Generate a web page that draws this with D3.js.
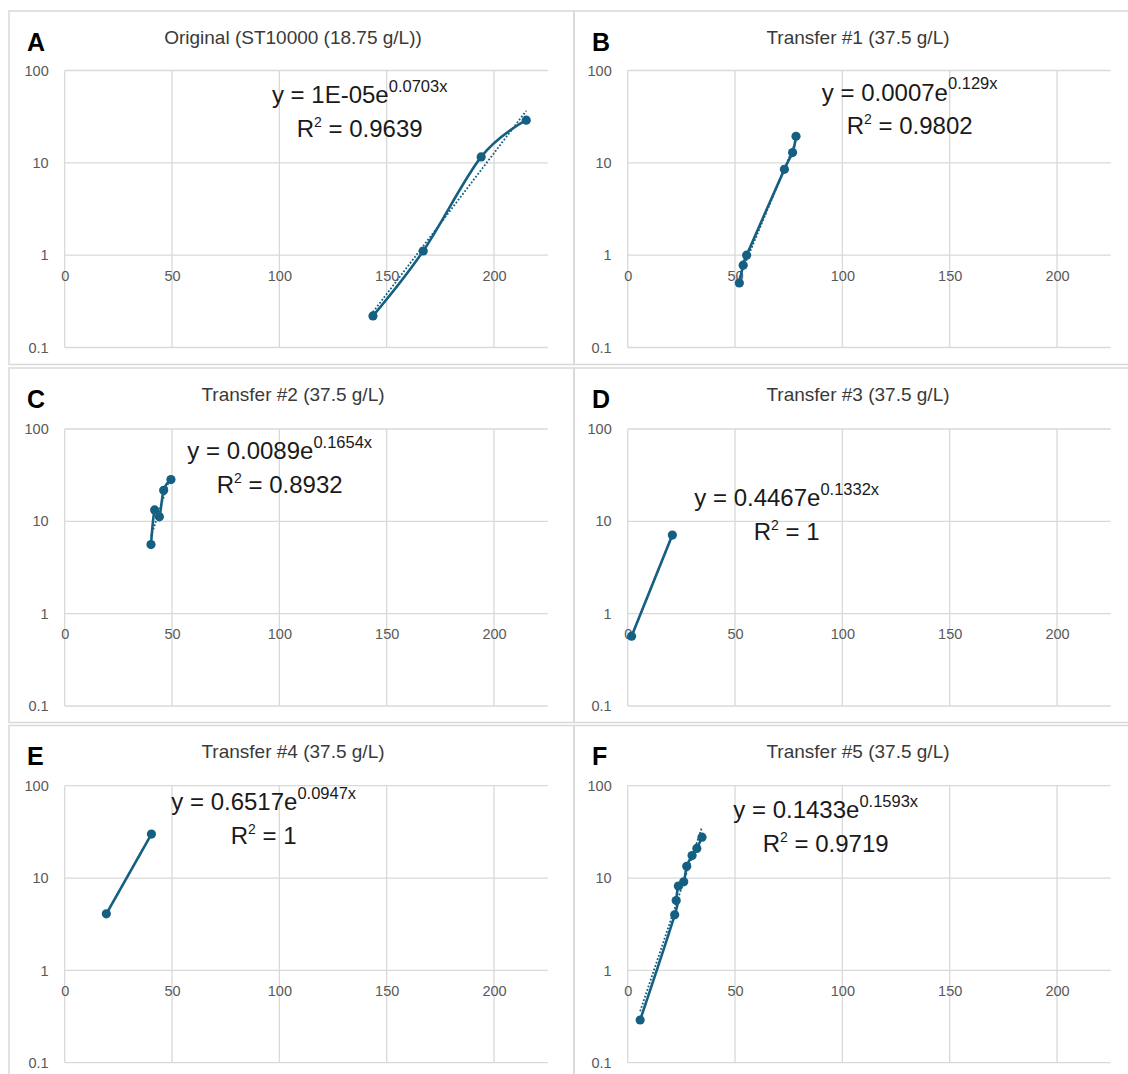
<!DOCTYPE html>
<html>
<head>
<meta charset="utf-8">
<script src="https://cdn.jsdelivr.net/npm/d3@7"></script>
<style>
  html, body { margin: 0; padding: 0; background: #fff; }
  svg { display: block; }
  text { font-family: "Liberation Sans", Arial, sans-serif; }
</style>
</head>
<body>
<svg id="fig" width="1128" height="1074"></svg>
<script>
// ---- Growth curves: OD (log scale) against time, one panel per transfer ----

const panelLetters = ["A", "B", "C", "D", "E", "F"];
const panelTitles = [
  "Original (ST10000 (18.75 g/L))",
  "Transfer #1 (37.5 g/L)",
  "Transfer #2 (37.5 g/L)",
  "Transfer #3 (37.5 g/L)",
  "Transfer #4 (37.5 g/L)",
  "Transfer #5 (37.5 g/L)"
];

const xTicks = [0, 50, 100, 150, 200];
const xTickLabels = ["0", "50", "100", "150", "200"];
const yTicks = [0.1, 1, 10, 100];
const yTickLabels = ["0.1", "1", "10", "100"];

// measured series (time, OD)
const timeA = [143.6, 167, 194, 215];
const odA   = [0.22, 1.11, 11.6, 29];
const timeB = [52.0, 53.8, 55.4, 73.0, 76.8, 78.4];
const odB   = [0.5, 0.78, 1.0, 8.5, 12.9, 19.4];
const timeC = [40.2, 41.9, 44.1, 46.1, 49.5];
const odC   = [5.6, 13.3, 11.2, 21.7, 28.3];
const timeD = [1.8, 20.8];
const odD   = [0.57, 7.1];
const timeE = [19.4, 40.4];
const odE   = [4.1, 29.9];
const timeF = [5.8, 21.9, 22.6, 23.6, 26.1, 27.5, 30.0, 32.2, 34.6];
const odF   = [0.29, 4.0, 5.7, 8.2, 9.1, 13.4, 17.5, 20.9, 27.7];

// exponential fits y = a·e^(b·x)
const fitCoef      = [1e-5, 0.0007, 0.0089, 0.4467, 0.6517, 0.1433];
const fitCoefLabel = ["1E-05", "0.0007", "0.0089", "0.4467", "0.6517", "0.1433"];
const fitRate      = [0.0703, 0.129, 0.1654, 0.1332, 0.0947, 0.1593];
const fitR2        = ["0.9639", "0.9802", "0.8932", "1", "1", "0.9719"];

const seriesTime = [timeA, timeB, timeC, timeD, timeE, timeF];
const seriesOD   = [odA, odB, odC, odD, odE, odF];

// ---- layout ----
const boxLeft  = [9, 574];
const boxTop   = [11, 368, 725.5];
const boxWidth = [565, 600];
const boxHeight = [353.5, 354.5, 400];
const plotLeft = [64.7, 627.7];
const plotTop  = [70.5, 429, 785.7];
const plotW = 483, plotH = 277;
// trendline label: centre x and first baseline, relative to the plot corner
const eqOffset = [[295, 32.6], [282, 30.2], [215, 30], [159, 77], [199, 24.3], [198, 32.6]];

const colour = "#156082";
const gridColour = "#d9d9d9";
const tickColour = "#595959";

const svg = d3.select("#fig");

panelLetters.forEach((letter, i) => {
  const col = i % 2, row = Math.floor(i / 2);
  const bx = boxLeft[col], by = boxTop[row];
  const pl = plotLeft[col], pt = plotTop[row];
  const g = svg.append("g");

  // panel frame
  g.append("rect")
    .attr("x", bx).attr("y", by)
    .attr("width", boxWidth[col]).attr("height", boxHeight[row])
    .attr("fill", "none").attr("stroke", gridColour).attr("stroke-width", 1.5);

  const x = d3.scaleLinear().domain([0, 225]).range([pl, pl + plotW]);
  const y = d3.scaleLog().domain([0.1, 100]).range([pt + plotH, pt]);

  // gridlines
  g.append("g").selectAll("line").data(yTicks).join("line")
    .attr("x1", x(0)).attr("x2", x(225))
    .attr("y1", d => y(d)).attr("y2", d => y(d))
    .attr("stroke", gridColour).attr("stroke-width", 1.3);
  g.append("g").selectAll("line").data(xTicks).join("line")
    .attr("x1", d => x(d)).attr("x2", d => x(d))
    .attr("y1", y(0.1)).attr("y2", y(100))
    .attr("stroke", gridColour).attr("stroke-width", 1.3);

  // axes: category axis crosses at 1
  const xa = g.append("g").attr("transform", `translate(0,${y(1)})`)
    .call(d3.axisBottom(x).tickValues(xTicks)
      .tickFormat((d, k) => xTickLabels[k]).tickSize(0).tickPadding(15.5));
  const ya = g.append("g").attr("transform", `translate(${x(0)},0)`)
    .call(d3.axisLeft(y).tickValues(yTicks)
      .tickFormat((d, k) => yTickLabels[k]).tickSize(0).tickPadding(16));
  [xa, ya].forEach(a => {
    a.select(".domain").remove();
    a.attr("font-family", null).attr("font-size", null);
    a.selectAll("text").attr("font-size", 14.5).attr("fill", tickColour);
  });

  // panel letter and title
  g.append("text").attr("x", bx + 18).attr("y", by + 39.5)
    .attr("font-size", 25).attr("font-weight", "bold").attr("fill", "#000")
    .text(letter);
  g.append("text").attr("x", bx + 284).attr("y", by + 32.8)
    .attr("text-anchor", "middle").attr("font-size", 19).attr("fill", "#3a3a3a")
    .text(panelTitles[i]);

  const time = seriesTime[i], od = seriesOD[i];
  const pts = time.map((t, k) => [t, od[k]]);

  // exponential trendline over the measured time span
  const span = d3.extent(time);
  const trend = span.map(t => [t, fitCoef[i] * Math.exp(fitRate[i] * t)]);
  g.append("path").datum(trend)
    .attr("d", d3.line().x(d => x(d[0])).y(d => y(d[1])))
    .attr("fill", "none").attr("stroke", colour)
    .attr("stroke-width", 1.8).attr("stroke-dasharray", "1.8,1.8");

  // smoothed series line
  g.append("path").datum(pts)
    .attr("d", d3.line().curve(d3.curveCardinal.tension(0))
      .x(d => x(d[0])).y(d => y(d[1])))
    .attr("fill", "none").attr("stroke", colour).attr("stroke-width", 2.6);

  // markers
  g.append("g").selectAll("circle").data(pts).join("circle")
    .attr("cx", d => x(d[0])).attr("cy", d => y(d[1])).attr("r", 4.6)
    .attr("fill", colour);

  // trendline label
  const ex = pl + eqOffset[i][0], ey = pt + eqOffset[i][1];
  const eq = g.append("text").attr("x", ex).attr("y", ey)
    .attr("text-anchor", "middle").attr("font-size", 24).attr("fill", "#1a1a1a");
  eq.append("tspan").text(`y = ${fitCoefLabel[i]}e`);
  eq.append("tspan").attr("dy", -11.5).attr("font-size", 16.5).text(`${fitRate[i]}x`);

  const r2 = g.append("text").attr("x", ex).attr("y", ey + 33.5)
    .attr("text-anchor", "middle").attr("font-size", 24).attr("fill", "#1a1a1a");
  r2.append("tspan").text("R");
  r2.append("tspan").attr("dy", -10).attr("font-size", 14).text("2");
  r2.append("tspan").attr("dy", 10).text(` = ${fitR2[i]}`);
});
</script>
</body>
</html>
